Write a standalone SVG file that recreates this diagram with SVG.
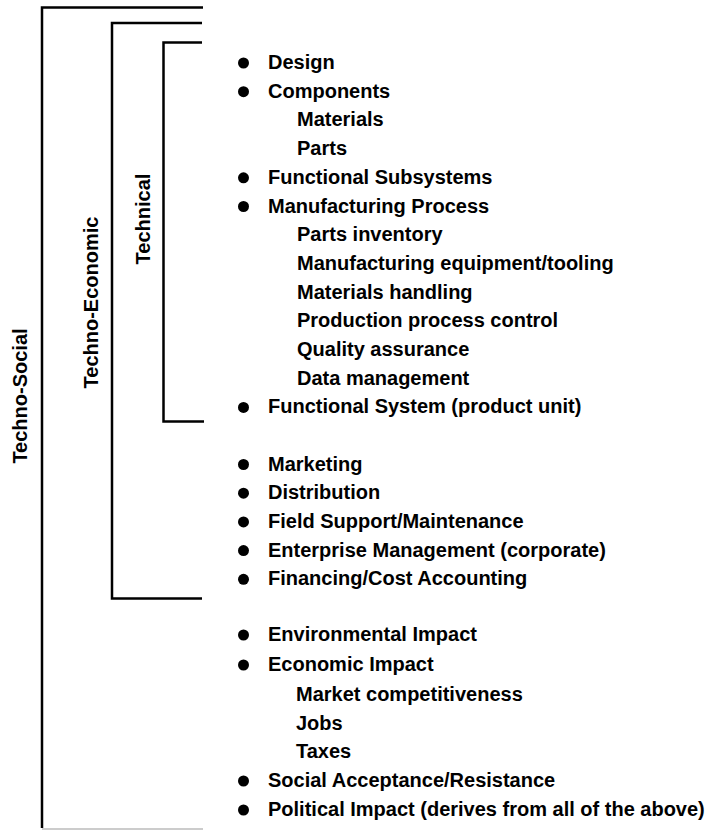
<svg xmlns="http://www.w3.org/2000/svg" width="718" height="830" viewBox="0 0 718 830">
<style>
.t{font-family:"Liberation Sans",Arial,sans-serif;font-weight:bold;font-size:20px;fill:#000}
.lbl{font-family:"Liberation Sans",Arial,sans-serif;font-weight:bold;font-size:20px;fill:#000;text-anchor:middle}
.br{fill:none;stroke:#000;stroke-width:2.5}
.b{fill:#000}
</style>
<rect width="718" height="830" fill="#fff"/>
<g id="connectors">
<path class="br" d="M203,7.5 H42 V828"/>
<line x1="42" y1="829" x2="203" y2="829" stroke="#bbb" stroke-width="1.5"/>
<path class="br" d="M202,23 H112 V598.5 H202"/>
<path class="br" d="M202,42.5 H163.5 V421.5 H204"/>
</g>
<g id="label-techno-social"><text class="lbl" transform="translate(27,396) rotate(-90)">Techno-Social</text></g>
<g id="label-techno-economic"><text class="lbl" transform="translate(98,302.5) rotate(-90)">Techno-Economic</text></g>
<g id="label-technical"><text class="lbl" transform="translate(150,219) rotate(-90)">Technical</text></g>
<g id="technical-items">
<circle class="b" cx="243.5" cy="63" r="5.5"/><text class="t" x="268" y="69">Design</text>
<circle class="b" cx="243.5" cy="91.7" r="5.5"/><text class="t" x="268" y="97.7">Components</text>
<text class="t" x="297" y="126.4">Materials</text>
<text class="t" x="297" y="155.1">Parts</text>
<circle class="b" cx="243.5" cy="177.8" r="5.5"/><text class="t" x="268" y="183.8">Functional Subsystems</text>
<circle class="b" cx="243.5" cy="206.5" r="5.5"/><text class="t" x="268" y="212.5">Manufacturing Process</text>
<text class="t" x="297" y="241.2">Parts inventory</text>
<text class="t" x="297" y="269.9">Manufacturing equipment/tooling</text>
<text class="t" x="297" y="298.6">Materials handling</text>
<text class="t" x="297" y="327.3">Production process control</text>
<text class="t" x="297" y="356">Quality assurance</text>
<text class="t" x="297" y="384.7">Data management</text>
<circle class="b" cx="243.5" cy="407.4" r="5.5"/><text class="t" x="268" y="413.4">Functional System (product unit)</text>
</g>
<g id="economic-items">
<circle class="b" cx="243.5" cy="464.5" r="5.5"/><text class="t" x="268" y="470.5">Marketing</text>
<circle class="b" cx="243.5" cy="493.2" r="5.5"/><text class="t" x="268" y="499.2">Distribution</text>
<circle class="b" cx="243.5" cy="521.9" r="5.5"/><text class="t" x="268" y="527.9">Field Support/Maintenance</text>
<circle class="b" cx="243.5" cy="550.6" r="5.5"/><text class="t" x="268" y="556.6">Enterprise Management (corporate)</text>
<circle class="b" cx="243.5" cy="579.3" r="5.5"/><text class="t" x="268" y="585.3">Financing/Cost Accounting</text>
</g>
<g id="social-items">
<circle class="b" cx="243.5" cy="635" r="5.5"/><text class="t" x="268" y="641">Environmental Impact</text>
<circle class="b" cx="243.5" cy="665" r="5.5"/><text class="t" x="268" y="671">Economic Impact</text>
<text class="t" x="296" y="701">Market competitiveness</text>
<text class="t" x="296" y="730">Jobs</text>
<text class="t" x="296" y="758">Taxes</text>
<circle class="b" cx="243.5" cy="781" r="5.5"/><text class="t" x="268" y="787">Social Acceptance/Resistance</text>
<circle class="b" cx="243.5" cy="810" r="5.5"/><text class="t" x="268" y="816">Political Impact (derives from all of the above)</text>
</g>
</svg>
